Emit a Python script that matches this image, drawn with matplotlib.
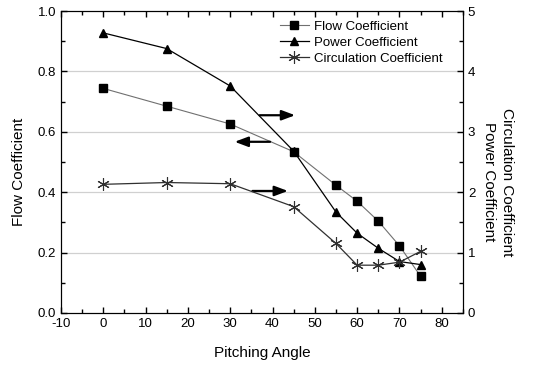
import matplotlib
matplotlib.use("Agg")
import matplotlib.pyplot as plt
from matplotlib.ticker import MultipleLocator

plt.rcParams['font.family'] = ['Liberation Sans', 'DejaVu Sans']
plt.rcParams['axes.unicode_minus'] = False

angle = [0, 15, 30, 45, 55, 60, 65, 70, 75]
flow = [0.744, 0.685, 0.626, 0.534, 0.423, 0.370, 0.304, 0.222, 0.121]
power = [4.64, 4.38, 3.76, 2.68, 1.67, 1.32, 1.07, 0.85, 0.80]
circ = [2.13, 2.16, 2.14, 1.76, 1.15, 0.79, 0.79, 0.84, 1.02]

fig = plt.figure(figsize=(5.34, 3.72), dpi=100)
ax = fig.add_axes([0.114, 0.159, 0.753, 0.811])
ax2 = ax.twinx()

for y in [0.2, 0.4, 0.6, 0.8]:
    ax.axhline(y, color='#d0d0d0', lw=0.9, zorder=0)

l1, = ax.plot(angle, flow, color='#707070', lw=0.8, marker='s', ms=6,
              mfc='black', mec='black', label='Flow Coefficient', zorder=3)
l2, = ax2.plot(angle, power, color='black', lw=0.9, marker='^', ms=5.5,
               mfc='black', mec='black', label='Power Coefficient', zorder=3)
l3, = ax2.plot(angle, circ, color='#303030', lw=0.9, marker=(6, 2, 0), ms=9,
               mec='#303030', mew=0.8, label='Circulation Coefficient', zorder=3)

ax.set_xlim(-10, 85)
ax.set_ylim(0, 1.0)
ax2.set_ylim(0, 5)

ax.xaxis.set_major_locator(MultipleLocator(10))
ax.xaxis.set_minor_locator(MultipleLocator(5))
ax.yaxis.set_major_locator(MultipleLocator(0.2))
ax.yaxis.set_minor_locator(MultipleLocator(0.1))
ax2.yaxis.set_major_locator(MultipleLocator(1))
ax2.yaxis.set_minor_locator(MultipleLocator(0.5))

ax.tick_params(which='both', direction='in', top=True, labelsize=9.5, width=1)
ax.tick_params(which='major', length=4.5)
ax.tick_params(which='minor', length=3)
ax2.tick_params(which='both', direction='in', labelsize=9.5, width=1)
ax2.tick_params(which='major', length=4.5)
ax2.tick_params(which='minor', length=3)
ax.set_yticks([0, 0.2, 0.4, 0.6, 0.8, 1.0])
ax.set_yticklabels(['0.0', '0.2', '0.4', '0.6', '0.8', '1.0'])

ax.set_xlabel('Pitching Angle', fontsize=11, labelpad=12)
ax.set_ylabel('Flow Coefficient', fontsize=11, va='center', ha='center')
ax.yaxis.set_label_coords(-0.104, 0.467)
ax2.set_ylabel('Circulation Coefficient\nPower Coefficient', fontsize=11,
               rotation=270, linespacing=1.35, va='center', ha='center')
ax2.yaxis.set_label_coords(1.087, 0.434)

arrow_kw = dict(arrowstyle='-|>,head_length=0.8,head_width=0.3', color='black', lw=1.6)
ax.annotate('', xy=(46, 0.655), xytext=(36.3, 0.655), arrowprops=arrow_kw)
ax.annotate('', xy=(30.4, 0.567), xytext=(40.1, 0.567), arrowprops=arrow_kw)
ax.annotate('', xy=(44.3, 0.404), xytext=(34.6, 0.404), arrowprops=arrow_kw)

ax.legend(handles=[l1, l2, l3], loc='upper right', frameon=False, fontsize=9.5,
          handlelength=2.2, handletextpad=0.4, borderaxespad=0.3, labelspacing=0.3,
          bbox_to_anchor=(0.972, 1.0))

fig.savefig('out.png', dpi=100)
